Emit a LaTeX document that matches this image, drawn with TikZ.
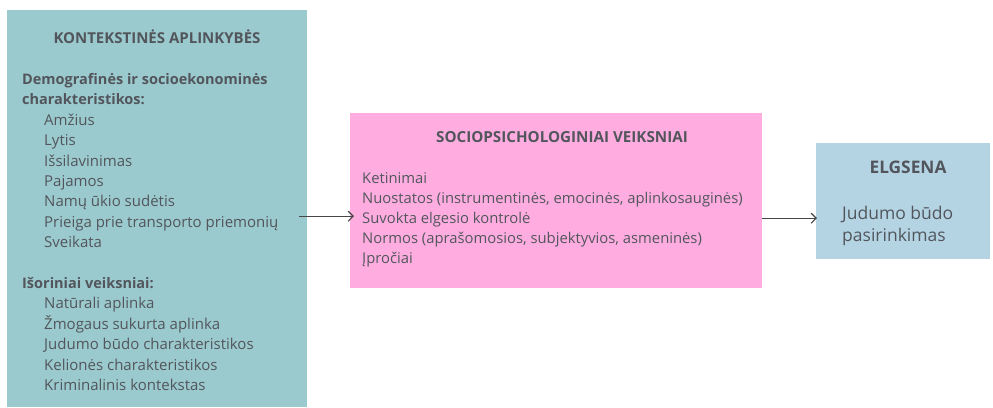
\documentclass[tikz,border=0pt]{standalone}
\usepackage{fontspec}
\setmainfont{Open Sans}
\usetikzlibrary{arrows.meta, positioning}
\definecolor{ctxteal}{RGB}{155,202,206}
\definecolor{psypink}{RGB}{255,173,224}
\definecolor{behblue}{RGB}{180,212,228}
\definecolor{txtgray}{RGB}{82,86,92}
\definecolor{arrgray}{RGB}{70,70,70}
\newcommand{\listindent}{\hspace*{22pt}}
\newcommand{\grouphead}[1]{{\bfseries\fontsize{14.5}{20.4}\selectfont #1}}

\tikzset{
  panel/.style={draw=none, inner sep=0pt, anchor=north west},
  heading/.style={text=txtgray, inner sep=0pt, anchor=base, font=\bfseries\fontsize{15}{17}\selectfont},
  lines/.style={text=txtgray, inner sep=0pt, anchor=base west, align=left, font=\fontsize{15}{20.4}\selectfont},
  flow/.style={-{Straight Barb[length=5pt,width=10pt]}, line width=1.2pt, arrgray}
}

\begin{document}
\begin{tikzpicture}[x=1pt,y=-1pt]
  \useasboundingbox (0,0) rectangle (993,407);
  % boxes
  \node[panel, fill=ctxteal, minimum width=300pt, minimum height=397pt] (ctx) at (7,10) {};
  \node[panel, fill=psypink, minimum width=412pt, minimum height=175pt] (psy) at (350,113) {};
  \node[panel, fill=behblue, minimum width=174pt, minimum height=116pt] (beh) at (816,143) {};
  % left box text (base = last line)
  \node[heading] (ctxhead) at (157,43) {KONTEKSTINĖS APLINKYBĖS};
  \node[lines] (ctxlist) at (22,390.5) {\grouphead{Demografinės ir socioekonominės}\\
    \grouphead{charakteristikos:}\\
    \listindent Amžius\\
    \listindent Lytis\\
    \listindent Išsilavinimas\\
    \listindent Pajamos\\
    \listindent Namų ūkio sudėtis\\
    \listindent Prieiga prie transporto priemonių\\
    \listindent Sveikata\\[20.4pt]
    \grouphead{Išoriniai veiksniai:}\\
    \listindent Natūrali aplinka\\
    \listindent Žmogaus sukurta aplinka\\
    \listindent Judumo būdo charakteristikos\\
    \listindent Kelionės charakteristikos\\
    \listindent Kriminalinis kontekstas};
  % middle box text
  \node[heading, font=\bfseries\fontsize{15.2}{17}\selectfont] (psyhead) at (562,142) {SOCIOPSICHOLOGINIAI VEIKSNIAI};
  \node[lines, font=\fontsize{14.8}{20}\selectfont] (psylist) at (362,263) {Ketinimai\\
    Nuostatos (instrumentinės, emocinės, aplinkosauginės)\\
    Suvokta elgesio kontrolė\\
    Normos (aprašomosios, subjektyvios, asmeninės)\\
    Įpročiai};
  % right box text
  \node[heading, font=\bfseries\fontsize{17.3}{19}\selectfont] (behhead) at (908,173) {ELGSENA};
  \node[lines, font=\fontsize{17.5}{21.7}\selectfont] (behlist) at (842,241.5) {Judumo būdo\\pasirinkimas};
  % arrows
  \draw[flow] ([shift={(-8,7.5)}]ctx.east) -- ([shift={(4,15.5)}]psy.west);
  \draw[flow] ([shift={(0,17.5)}]psy.east) -- ([shift={(1,17)}]beh.west);
\end{tikzpicture}
\end{document}
